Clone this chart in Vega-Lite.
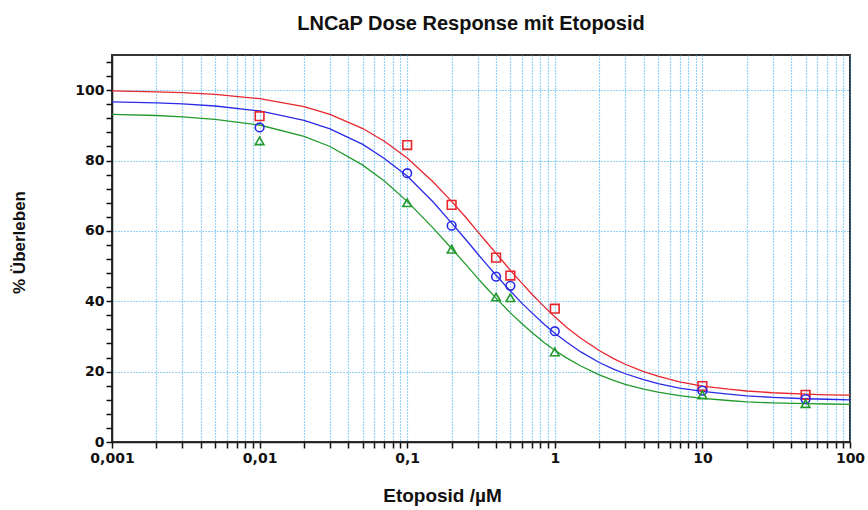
{
  "$schema": "https://vega.github.io/schema/vega-lite/v6.json",
  "width": 738,
  "height": 387,
  "autosize": "none",
  "padding": {"left": 112, "top": 55, "right": 18, "bottom": 68},
  "background": "white",
  "title": {
    "text": "LNCaP Dose Response mit Etoposid",
    "font": "Liberation Sans",
    "fontSize": 20,
    "fontWeight": "bold",
    "color": "#111111",
    "offset": 21,
    "dx": -10,
    "anchor": "middle"
  },
  "config": {
    "view": {"stroke": "#333333", "strokeWidth": 2}
  },
  "datasets": {
    "points": [
      {"conc": 0.01, "value": 92.6, "series": "A"},
      {"conc": 0.1, "value": 84.4, "series": "A"},
      {"conc": 0.2, "value": 67.4, "series": "A"},
      {"conc": 0.4, "value": 52.4, "series": "A"},
      {"conc": 0.5, "value": 47.3, "series": "A"},
      {"conc": 1, "value": 37.9, "series": "A"},
      {"conc": 10, "value": 15.9, "series": "A"},
      {"conc": 50, "value": 13.4, "series": "A"},
      {"conc": 0.01, "value": 89.4, "series": "B"},
      {"conc": 0.1, "value": 76.4, "series": "B"},
      {"conc": 0.2, "value": 61.5, "series": "B"},
      {"conc": 0.4, "value": 47.0, "series": "B"},
      {"conc": 0.5, "value": 44.4, "series": "B"},
      {"conc": 1, "value": 31.5, "series": "B"},
      {"conc": 10, "value": 14.6, "series": "B"},
      {"conc": 50, "value": 12.2, "series": "B"},
      {"conc": 0.01, "value": 85.6, "series": "C"},
      {"conc": 0.1, "value": 68.0, "series": "C"},
      {"conc": 0.2, "value": 54.8, "series": "C"},
      {"conc": 0.4, "value": 41.2, "series": "C"},
      {"conc": 0.5, "value": 41.0, "series": "C"},
      {"conc": 1, "value": 25.6, "series": "C"},
      {"conc": 10, "value": 13.4, "series": "C"},
      {"conc": 50, "value": 10.9, "series": "C"}
    ],
    "curves": [
      {"conc": 0.001, "value": 99.8, "series": "A"},
      {"conc": 0.002, "value": 99.5, "series": "A"},
      {"conc": 0.003, "value": 99.3, "series": "A"},
      {"conc": 0.005, "value": 98.8, "series": "A"},
      {"conc": 0.01, "value": 97.6, "series": "A"},
      {"conc": 0.02, "value": 95.3, "series": "A"},
      {"conc": 0.03, "value": 93.1, "series": "A"},
      {"conc": 0.05, "value": 89.1, "series": "A"},
      {"conc": 0.07, "value": 85.5, "series": "A"},
      {"conc": 0.1, "value": 80.7, "series": "A"},
      {"conc": 0.15, "value": 73.9, "series": "A"},
      {"conc": 0.2, "value": 68.4, "series": "A"},
      {"conc": 0.25, "value": 63.8, "series": "A"},
      {"conc": 0.3, "value": 59.8, "series": "A"},
      {"conc": 0.35, "value": 56.5, "series": "A"},
      {"conc": 0.4, "value": 53.6, "series": "A"},
      {"conc": 0.5, "value": 48.8, "series": "A"},
      {"conc": 0.6, "value": 45.1, "series": "A"},
      {"conc": 0.7, "value": 42.0, "series": "A"},
      {"conc": 0.85, "value": 38.4, "series": "A"},
      {"conc": 1, "value": 35.6, "series": "A"},
      {"conc": 1.2, "value": 32.6, "series": "A"},
      {"conc": 1.5, "value": 29.5, "series": "A"},
      {"conc": 2, "value": 26.0, "series": "A"},
      {"conc": 2.5, "value": 23.7, "series": "A"},
      {"conc": 3, "value": 22.1, "series": "A"},
      {"conc": 4, "value": 20.0, "series": "A"},
      {"conc": 5, "value": 18.7, "series": "A"},
      {"conc": 7, "value": 17.1, "series": "A"},
      {"conc": 10, "value": 15.9, "series": "A"},
      {"conc": 15, "value": 15.0, "series": "A"},
      {"conc": 20, "value": 14.5, "series": "A"},
      {"conc": 30, "value": 14.0, "series": "A"},
      {"conc": 50, "value": 13.6, "series": "A"},
      {"conc": 70, "value": 13.4, "series": "A"},
      {"conc": 100, "value": 13.3, "series": "A"},
      {"conc": 0.001, "value": 96.7, "series": "B"},
      {"conc": 0.002, "value": 96.4, "series": "B"},
      {"conc": 0.003, "value": 96.1, "series": "B"},
      {"conc": 0.005, "value": 95.5, "series": "B"},
      {"conc": 0.01, "value": 94.1, "series": "B"},
      {"conc": 0.02, "value": 91.4, "series": "B"},
      {"conc": 0.03, "value": 89.0, "series": "B"},
      {"conc": 0.05, "value": 84.6, "series": "B"},
      {"conc": 0.07, "value": 80.6, "series": "B"},
      {"conc": 0.1, "value": 75.6, "series": "B"},
      {"conc": 0.15, "value": 68.2, "series": "B"},
      {"conc": 0.2, "value": 62.2, "series": "B"},
      {"conc": 0.25, "value": 57.5, "series": "B"},
      {"conc": 0.3, "value": 53.5, "series": "B"},
      {"conc": 0.35, "value": 50.2, "series": "B"},
      {"conc": 0.4, "value": 47.4, "series": "B"},
      {"conc": 0.5, "value": 42.9, "series": "B"},
      {"conc": 0.6, "value": 39.4, "series": "B"},
      {"conc": 0.7, "value": 36.7, "series": "B"},
      {"conc": 0.85, "value": 33.4, "series": "B"},
      {"conc": 1, "value": 30.9, "series": "B"},
      {"conc": 1.2, "value": 28.4, "series": "B"},
      {"conc": 1.5, "value": 25.6, "series": "B"},
      {"conc": 2, "value": 22.6, "series": "B"},
      {"conc": 2.5, "value": 20.7, "series": "B"},
      {"conc": 3, "value": 19.4, "series": "B"},
      {"conc": 4, "value": 17.7, "series": "B"},
      {"conc": 5, "value": 16.6, "series": "B"},
      {"conc": 7, "value": 15.3, "series": "B"},
      {"conc": 10, "value": 14.4, "series": "B"},
      {"conc": 15, "value": 13.6, "series": "B"},
      {"conc": 20, "value": 13.1, "series": "B"},
      {"conc": 30, "value": 12.7, "series": "B"},
      {"conc": 50, "value": 12.3, "series": "B"},
      {"conc": 70, "value": 12.15, "series": "B"},
      {"conc": 100, "value": 12.0, "series": "B"},
      {"conc": 0.001, "value": 93.1, "series": "C"},
      {"conc": 0.002, "value": 92.8, "series": "C"},
      {"conc": 0.003, "value": 92.4, "series": "C"},
      {"conc": 0.005, "value": 91.7, "series": "C"},
      {"conc": 0.01, "value": 90.1, "series": "C"},
      {"conc": 0.02, "value": 86.9, "series": "C"},
      {"conc": 0.03, "value": 84.0, "series": "C"},
      {"conc": 0.05, "value": 78.7, "series": "C"},
      {"conc": 0.07, "value": 74.2, "series": "C"},
      {"conc": 0.1, "value": 68.4, "series": "C"},
      {"conc": 0.15, "value": 60.8, "series": "C"},
      {"conc": 0.2, "value": 55.0, "series": "C"},
      {"conc": 0.25, "value": 50.4, "series": "C"},
      {"conc": 0.3, "value": 46.6, "series": "C"},
      {"conc": 0.35, "value": 43.5, "series": "C"},
      {"conc": 0.4, "value": 40.9, "series": "C"},
      {"conc": 0.5, "value": 36.7, "series": "C"},
      {"conc": 0.6, "value": 33.6, "series": "C"},
      {"conc": 0.7, "value": 31.1, "series": "C"},
      {"conc": 0.85, "value": 28.2, "series": "C"},
      {"conc": 1, "value": 26.1, "series": "C"},
      {"conc": 1.2, "value": 23.9, "series": "C"},
      {"conc": 1.5, "value": 21.6, "series": "C"},
      {"conc": 2, "value": 19.1, "series": "C"},
      {"conc": 2.5, "value": 17.5, "series": "C"},
      {"conc": 3, "value": 16.4, "series": "C"},
      {"conc": 4, "value": 15.0, "series": "C"},
      {"conc": 5, "value": 14.2, "series": "C"},
      {"conc": 7, "value": 13.2, "series": "C"},
      {"conc": 10, "value": 12.4, "series": "C"},
      {"conc": 15, "value": 11.8, "series": "C"},
      {"conc": 20, "value": 11.4, "series": "C"},
      {"conc": 30, "value": 11.1, "series": "C"},
      {"conc": 50, "value": 10.9, "series": "C"},
      {"conc": 70, "value": 10.8, "series": "C"},
      {"conc": 100, "value": 10.7, "series": "C"}
    ]
  },
  "layer": [
    {
      "data": {"name": "curves"},
      "mark": {"type": "line", "strokeWidth": 1.3, "clip": true},
      "encoding": {
        "x": {
          "field": "conc",
          "type": "quantitative",
          "scale": {"type": "log", "domain": [0.001, 100], "nice": false},
          "axis": {
            "title": "Etoposid /µM",
            "titleFont": "Liberation Sans",
            "titleColor": "#111111",
            "titleFontSize": 19,
            "titleFontWeight": "bold",
            "titleX": 330,
            "titleY": 59,
            "titleAlign": "center",
            "titleBaseline": "alphabetic",
            "tickCount": 200,
            "values": [0.001,0.002,0.003,0.004,0.005,0.006,0.007,0.008,0.009,0.01,0.02,0.03,0.04,0.05,0.06,0.07,0.08,0.09,0.1,0.2,0.3,0.4,0.5,0.6,0.7,0.8,0.9,1,2,3,4,5,6,7,8,9,10,20,30,40,50,60,70,80,90,100],
            "labelExpr": "(abs(log(datum.value)/LN10 - round(log(datum.value)/LN10)) < 0.001) ? (datum.value < 1 ? replace(format(datum.value, '.3~f'), '.', ',') : format(datum.value, 'd')) : ''",
            "labelFont": "DejaVu Sans",
            "labelFontWeight": "bold",
            "labelFontSize": 14,
            "labelColor": "#111111",
            "labelPadding": 3,
            "labelFlush": false,
            "labelOverlap": false,
            "domainColor": "#222222",
            "domainWidth": 1.5,
            "ticks": true,
            "tickColor": "#111111",
            "tickWidth": 1.5,
            "tickSize": 6,
            "grid": true,
            "gridColor": "#2fa4f0",
            "gridDash": [1, 2],
            "gridWidth": 1.2
          }
        },
        "y": {
          "field": "value",
          "type": "quantitative",
          "scale": {"domain": [0, 110], "nice": false, "zero": true},
          "axis": {
            "title": "% Überleben",
            "titleFont": "Liberation Sans",
            "titleColor": "#111111",
            "titleFontSize": 17,
            "titleFontWeight": "bold",
            "titleX": -93,
            "titleY": 187,
            "titleAngle": -90,
            "titleAlign": "center",
            "titleBaseline": "middle",
            "tickCount": 200,
            "values": [0,4,8,12,16,20,24,28,32,36,40,44,48,52,56,60,64,68,72,76,80,84,88,92,96,100,104,108],
            "labelExpr": "datum.value % 20 === 0 ? format(datum.value, 'd') : ''",
            "labelFont": "DejaVu Sans",
            "labelFontWeight": "bold",
            "labelFontSize": 14,
            "labelColor": "#111111",
            "labelPadding": 2,
            "labelOverlap": false,
            "domainColor": "#222222",
            "domainWidth": 1.5,
            "ticks": true,
            "tickColor": "#111111",
            "tickWidth": 1.5,
            "tickSize": 6,
            "grid": true,
            "gridColor": "#2fa4f0",
            "gridDash": [1, 2],
            "gridWidth": 1.2,
            "gridOpacity": {"condition": {"test": "datum.value % 20 === 0 && datum.value > 0", "value": 1}, "value": 0}
          }
        },
        "color": {
          "field": "series",
          "type": "nominal",
          "scale": {"domain": ["A", "B", "C"], "range": ["#e8262e", "#2a2ae8", "#239a2c"]},
          "legend": null
        }
      }
    },
    {
      "data": {"name": "points"},
      "mark": {"type": "point", "filled": false, "strokeWidth": 1.6, "size": 75, "opacity": 1},
      "encoding": {
        "x": {"field": "conc", "type": "quantitative"},
        "y": {"field": "value", "type": "quantitative"},
        "color": {"field": "series", "type": "nominal", "legend": null},
        "shape": {
          "field": "series",
          "type": "nominal",
          "scale": {"domain": ["A", "B", "C"], "range": ["square", "circle", "triangle-up"]},
          "legend": null
        }
      }
    }
  ]
}
